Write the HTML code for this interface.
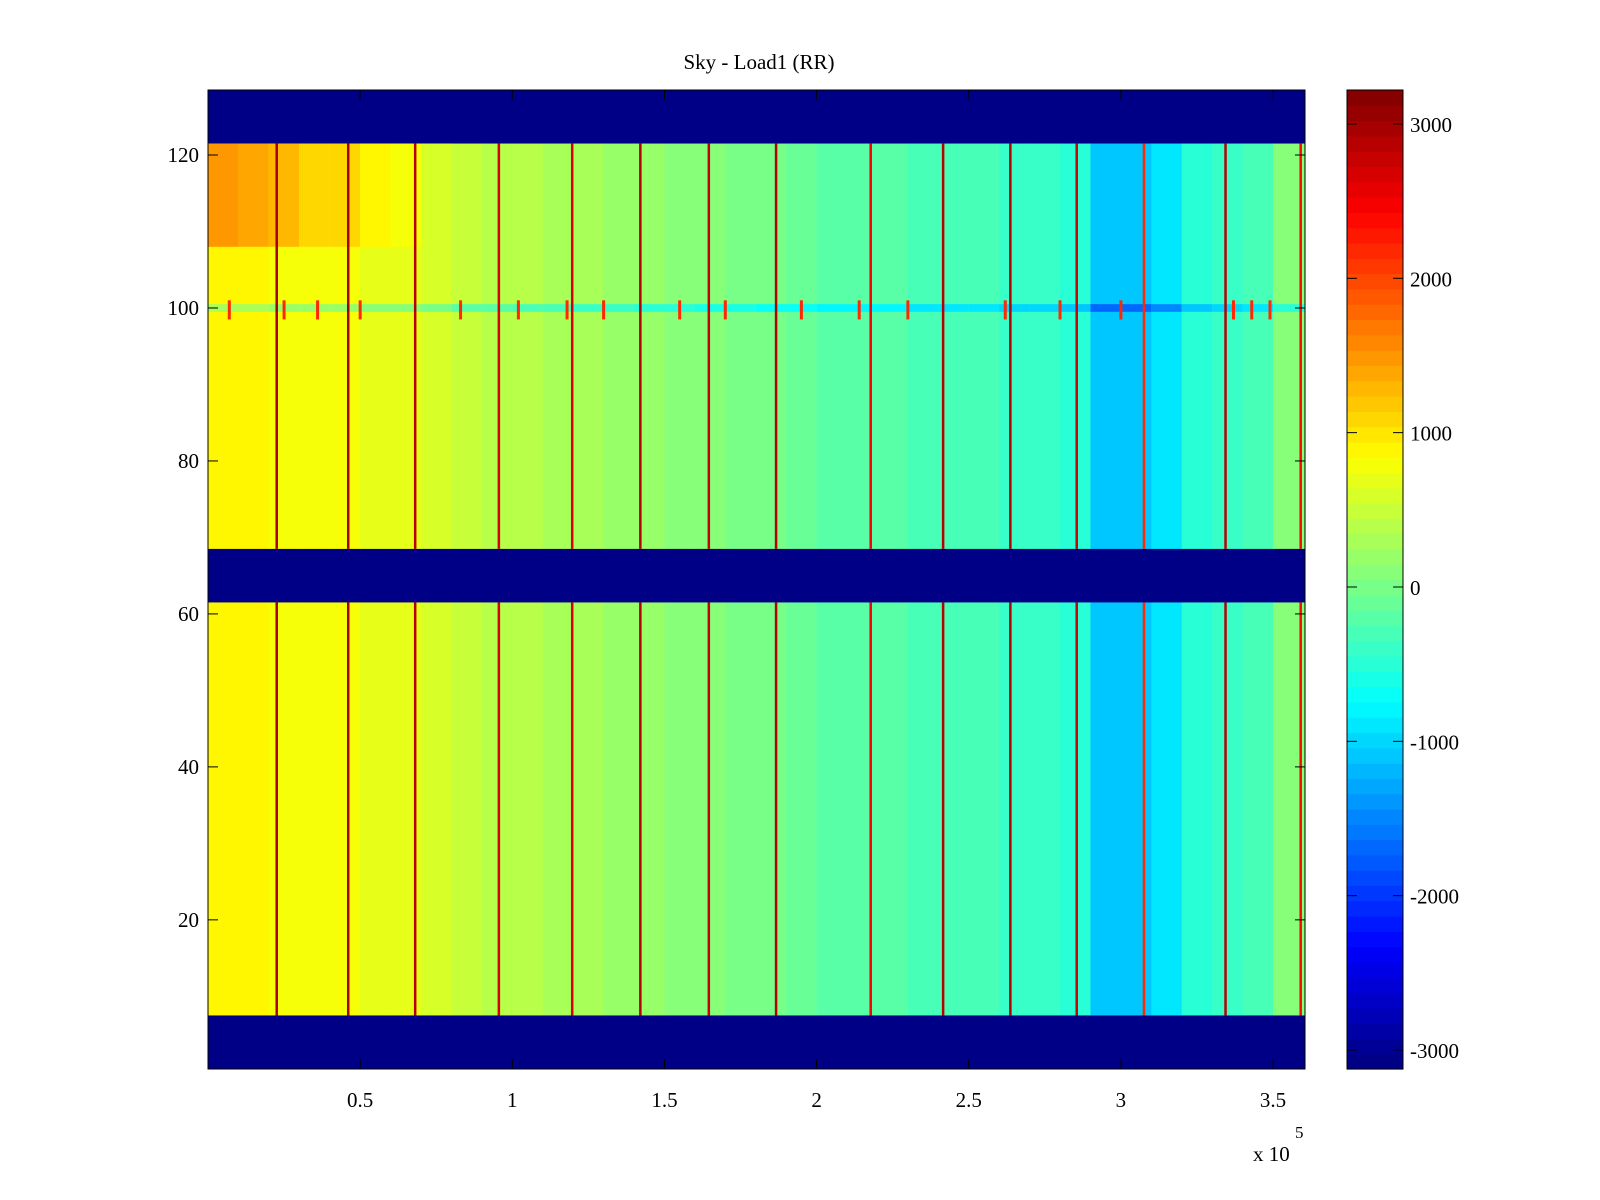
<!DOCTYPE html>
<html><head><meta charset="utf-8"><style>
html,body{margin:0;padding:0;background:#fff;}
svg{display:block;font-family:"Liberation Serif",serif;}
</style></head><body>
<svg id="chart" width="1600" height="1200" viewBox="0 0 1600 1200">
<rect width="1600" height="1200" fill="#fff"/>
<text x="759" y="69" font-size="21" text-anchor="middle">Sky - Load1 (RR)</text>
<g id="cells"></g>
<g id="axes"></g>
<g id="cbar"></g>
</svg>
<script>
// ---- data ----
const binStarts = [0,10000,20000,30000,40000,50000,60000,70000,80000,90000,100000,110000,120000,130000,140000,150000,160000,170000,180000,190000,200000,210000,220000,230000,240000,250000,260000,270000,280000,290000,300000,310000,320000,330000,340000,350000];
const colMeans = [900,850,800,750,750,700,650,550,450,400,350,300,250,200,150,100,50,0,-50,-100,-150,-200,-200,-250,-250,-300,-350,-400,-500,-1050,-1100,-850,-500,-350,-250,100];
const upperBoost = [550,500,450,350,300,200,150,80,0,0,0,0,0,0,0,0,0,0,0,0,0,0,0,0,0,0,0,0,0,0,0,0,0,0,0,0];
const stripeX = [22500,46000,68000,95500,119600,142000,164500,186600,217700,241500,263600,285400,307500,334300,359000];
const stripeVal = [3000,3000,2900,2700,2700,2900,2800,2900,2500,2900,2900,2800,2200,2900,2400];
const spotX = [7000,25000,36000,50000,83000,102000,118000,130000,155000,170000,195000,214000,230000,262000,280000,300000,337000,343000,349000];
const xTicks = [0.5,1,1.5,2,2.5,3,3.5];
const yTicks = [20,40,60,80,100,120];
const cTicks = [3000,2000,1000,0,-1000,-2000,-3000];
const blankVal = -3120;

// ---- scales ----
const L=208,R=1305,T=90,B=1069;
const xMin=0,xMax=360500,yMin=0.5,yMax=128.5;
const X=v=>L+(v-xMin)/(xMax-xMin)*(R-L);
const Y=v=>B-(v-yMin)/(yMax-yMin)*(B-T);
const cMin=-3123,cMax=3220;
function jet(v){
  let t=(v-cMin)/(cMax-cMin); t=Math.max(0,Math.min(0.9999,t));
  t=(Math.floor(t*64)+0.5)/64;
  const f=x=>Math.max(0,Math.min(1,x));
  const r=f(1.5-Math.abs(4*t-3)),g=f(1.5-Math.abs(4*t-2)),b=f(1.5-Math.abs(4*t-1));
  return `rgb(${Math.round(r*255)},${Math.round(g*255)},${Math.round(b*255)})`;
}
const NS='http://www.w3.org/2000/svg';
function mk(tag,attrs,parent){const e=document.createElementNS(NS,tag);for(const k in attrs)e.setAttribute(k,attrs[k]);parent.appendChild(e);return e;}
const cells=document.getElementById('cells');
const bg=mk('rect',{x:L,y:T,width:R-L,height:B-T,fill:jet(blankVal)},cells);


const dataBands=[[7.5,61.5],[68.5,121.5]];
dataBands.forEach((bd,bi)=>{
  binStarts.forEach((s,i)=>{
    const e=(i+1<binStarts.length)?binStarts[i+1]:xMax;
    const x0=Math.max(X(s),L),x1=X(e);
    const r=mk('rect',{x:x0,y:Y(bd[1]),width:x1-x0+0.5,height:Y(bd[0])-Y(bd[1]),fill:jet(colMeans[i])},cells);
    
    
    if(bi===1&&upperBoost[i]>0){
      const r2=mk('rect',{x:x0,y:Y(121.5),width:x1-x0+0.5,height:Y(108)-Y(121.5),fill:jet(colMeans[i]+upperBoost[i])},cells);
      
      
    }
    if(bi===1){
      const r3=mk('rect',{x:x0,y:Y(100.5),width:x1-x0+0.5,height:Y(99.5)-Y(100.5),fill:jet(colMeans[i]-600)},cells);
      
      
    }
  });
  stripeX.forEach((sx,i)=>{
    const st=mk('rect',{x:X(sx)-1,y:Y(bd[1]),width:2.5,height:Y(bd[0])-Y(bd[1]),fill:jet(stripeVal[i])},cells);
    
    
  });
});
spotX.forEach(sx=>{
  const sp=mk('rect',{x:X(sx)-1.5,y:Y(101),width:3,height:Y(98.5)-Y(101),fill:jet(2200)},cells);
  
  
});
const ax=document.getElementById('axes');
const frame=mk('rect',{x:L,y:T,width:R-L,height:B-T,fill:'none',stroke:'#000','stroke-width':1},ax);


xTicks.forEach(t=>{
  const x=X(t*1e5);
  mk('line',{x1:x,y1:B,x2:x,y2:B-10,stroke:'#000'},ax);
  mk('line',{x1:x,y1:T,x2:x,y2:T+10,stroke:'#000'},ax);
  const tx=mk('text',{x:x,y:B+38,'font-size':21,'text-anchor':'middle'},ax);
  tx.textContent=t;
  
  
});
yTicks.forEach(t=>{
  const y=Y(t);
  mk('line',{x1:L,y1:y,x2:L+10,y2:y,stroke:'#000'},ax);
  mk('line',{x1:R,y1:y,x2:R-10,y2:y,stroke:'#000'},ax);
  const tx=mk('text',{x:L-9,y:y+7,'font-size':21,'text-anchor':'end'},ax);
  tx.textContent=t;
  
  
});
const ex=mk('text',{x:1253,y:1161,'font-size':21},ax);
ex.textContent='x 10';


const ex5=mk('text',{x:1295,y:1138,'font-size':17},ax);
ex5.textContent='5';


const cb=document.getElementById('cbar');
const CL=1347,CR=1403;
const CY=v=>B-(v-cMin)/(cMax-cMin)*(B-T);
for(let i=0;i<64;i++){
  const v0=cMin+(cMax-cMin)*i/64,v1=cMin+(cMax-cMin)*(i+1)/64;
  const r=mk('rect',{x:CL,y:CY(v1),width:CR-CL,height:CY(v0)-CY(v1)+0.6,fill:jet((v0+v1)/2)},cb);
  
  
}
const cf=mk('rect',{x:CL,y:T,width:CR-CL,height:B-T,fill:'none',stroke:'#000'},cb);


cTicks.forEach(t=>{
  const y=CY(t);
  mk('line',{x1:CL,y1:y,x2:CL+10,y2:y,stroke:'#000'},cb);
  mk('line',{x1:CR,y1:y,x2:CR-10,y2:y,stroke:'#000'},cb);
  const tx=mk('text',{x:CR+7,y:y+8,'font-size':21},cb);
  tx.textContent=t;
  
  
});
</script>
</body></html>
